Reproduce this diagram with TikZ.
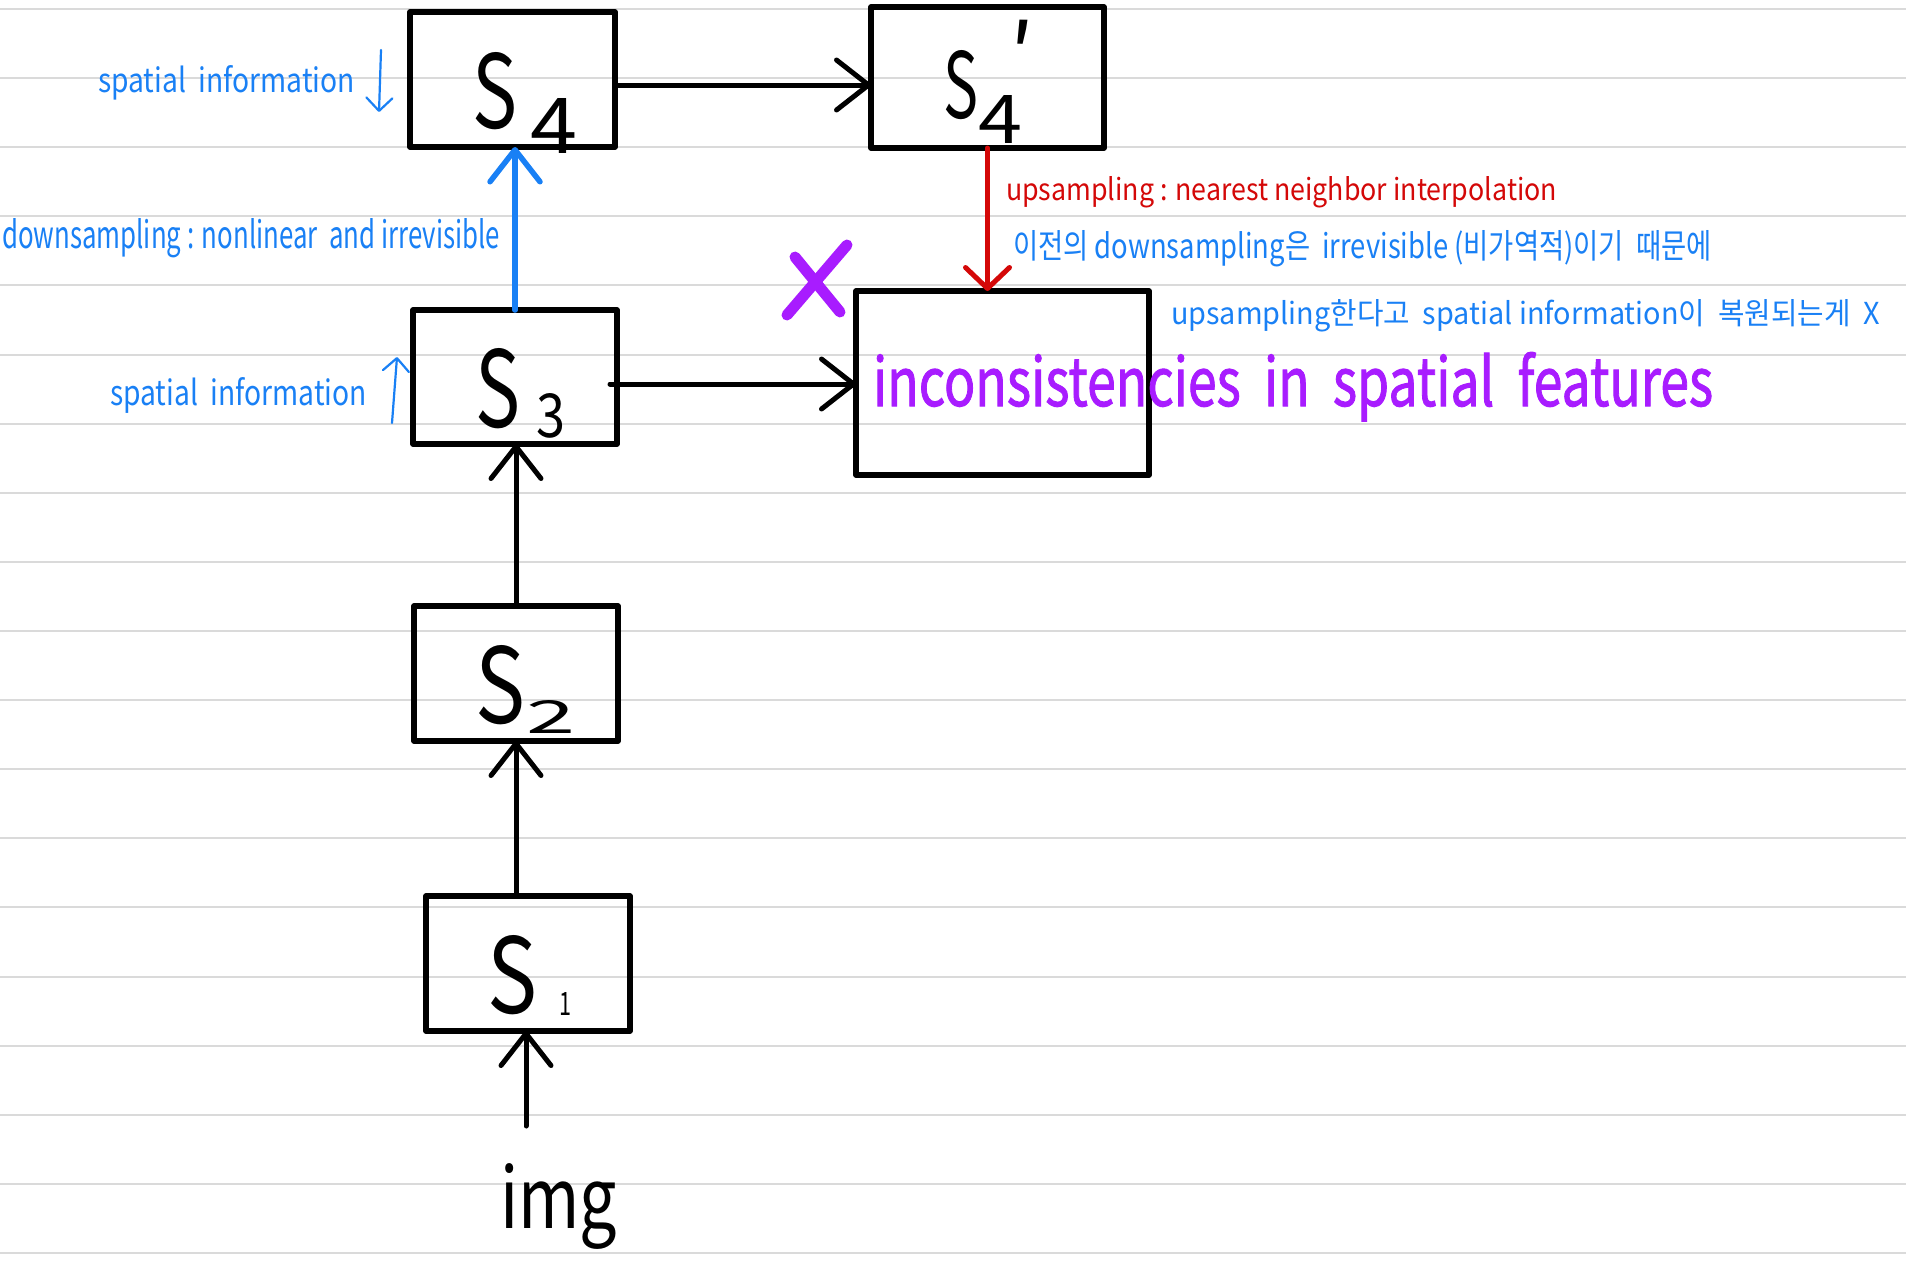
\documentclass[tikz,border=0pt]{standalone}
\usepackage{fontspec}
\setmainfont{Noto Sans CJK KR}
\newfontfamily\thickfont[FakeBold=1.5]{Noto Sans CJK KR}
\usepackage{graphicx}
\usetikzlibrary{arrows.meta}
\definecolor{penblue}{RGB}{25,128,245}
\definecolor{penred}{RGB}{212,8,8}
\definecolor{penpurple}{RGB}{168,28,255}
\definecolor{ruled}{RGB}{218,218,218}
\newcommand{\fitwh}[3]{\resizebox{#1pt}{#2pt}{#3}}
\newcommand{\glyphbox}[3]{\resizebox{#1pt}{#2pt}{#3}}
\begin{document}
\begin{tikzpicture}[x=1pt,y=-1pt,
  ruleline/.style={draw=ruled, line width=2pt},
  stagebox/.style={draw=black, line width=5.5pt, rectangle, inner sep=0pt, outer sep=0pt, line join=round},
  conn/.style={line width=5pt, line cap=round, -{Straight Barb[length=32pt,width=50pt,round]}},
  note/.style={inner sep=0pt, outer sep=0pt, anchor=base west, font=\fontsize{20}{24}\selectfont},
  slabel/.style={inner sep=0pt, outer sep=0pt, anchor=base west, text=black},
  penarrow/.style={draw=penblue, line width=2.2pt, line cap=round, -{Straight Barb[length=13pt,width=26pt,round]}},
  cross/.style={draw=penpurple, line width=11pt, line cap=round}]
\fill[white] (0,0) rectangle (1906,1270);
\useasboundingbox (0,0) rectangle (1906,1270);
% ruled paper lines
\foreach \k in {0,...,18} \draw[ruleline] (0,{9+69.11*\k}) -- (1906,{9+69.11*\k});

% stage boxes
\node[stagebox, minimum width=205pt, minimum height=135pt] (s4) at (512.5,79.5) {};
\node[stagebox, minimum width=233pt, minimum height=141pt] (s4p) at (987.5,77.5) {};
\node[stagebox, minimum width=204pt, minimum height=134pt] (s3) at (515,377) {};
\node[stagebox, minimum width=204pt, minimum height=135pt] (s2) at (516,673.5) {};
\node[stagebox, minimum width=204pt, minimum height=135pt] (s1) at (528,963.5) {};
\node[stagebox, minimum width=293pt, minimum height=184pt] (inc) at (1002.5,383) {};

% box labels
\node[slabel] (l4) at (472,128) {\glyphbox{45}{76}{S}\hspace{13pt}\raisebox{-25pt}{\glyphbox{47}{55}{4}}};
\node[slabel] (l4p) at (943,118) {\glyphbox{35}{68}{S}\raisebox{-25pt}{\glyphbox{44}{48}{4}}};
\node[inner sep=0pt, anchor=north] (prime) at (1022,20) {\fontsize{90}{90}\selectfont ′};
\node[slabel] (l3) at (475,427) {\glyphbox{45}{79}{S}\hspace{16pt}\raisebox{-10pt}{\glyphbox{29}{44}{3}}};
\node[slabel] (l2) at (475,723) {\glyphbox{50}{78}{S}\hspace{1pt}\raisebox{-10pt}{\glyphbox{49}{33}{2}}};
\node[slabel] (l1) at (487,1013) {\glyphbox{50}{78}{S}\hspace{22pt}\raisebox{-2pt}{\glyphbox{12}{23}{1}}};

% input
\node[note, text=black] (img) at (500,1228) {\fitwh{117}{65}{img}};
\coordinate (imgtop) at (526,1126);

% connectors
\draw[conn] (imgtop) -- (imgtop |- s1.south);
\draw[conn] (s1.north -| s2.south) -- (s2.south);
\draw[conn] (s2.north) -- (s3.south -| s2.north);
\draw[conn, penblue, line width=5.5pt] (s3.north) -- (s4.south -| s3.north);
\draw[conn] ([yshift=-5.5pt]s4.east) -- ([yshift=-5.5pt]s4.east -| s4p.west);
\draw[conn] ([xshift=-7pt,yshift=-7pt]s3.east) -- ([yshift=-7pt]s3.east -| inc.west);
\draw[conn, penred, -{Straight Barb[length=21pt,width=44pt,round]}] (s4p.south) -- (s4p.south |- inc.north);

% blue notes
\node[note, text=penblue] (t1) at (98,92) {\fitwh{257}{27}{spatial\ \ information}};
\coordinate (a1s) at (381,50);
\coordinate (a1e) at (379,112);
\draw[penarrow] (a1s) -- (a1e);
\node[note, text=penblue] (t2) at (2,248) {\fitwh{498}{30}{downsampling : nonlinear\ \ and irrevisible}};
\node[note, text=penblue] (t3) at (110,405) {\fitwh{257}{28}{spatial\ \ information}};
\coordinate (a3s) at (392,423);
\coordinate (a3e) at (397,357);
\draw[penarrow] (a3s) -- (a3e);

% right side notes
\node[note, text=penred] (t4) at (1006,200) {\fitwh{551}{24}{upsampling : nearest neighbor interpolation}};
\node[note, text=penblue] (t5) at (1013,258) {\fitwh{699}{28}{이전의 downsampling은\ \ irrevisible (비가역적)이기\ \ 때문에}};
\node[note, text=penblue] (t6) at (1171,324) {\fitwh{709}{25}{upsampling한다고\ \ spatial information이\ \ 복원되는게\ \ X}};
\node[note, text=penpurple] (t7) at (873,406) {\fitwh{840}{54}{\thickfont inconsistencies\ \ in\ \ spatial\ \ features}};

% purple cross
\draw[cross] (787,315) -- (847,245);
\draw[cross] (795,257) -- (840,312);
\end{tikzpicture}
\end{document}
